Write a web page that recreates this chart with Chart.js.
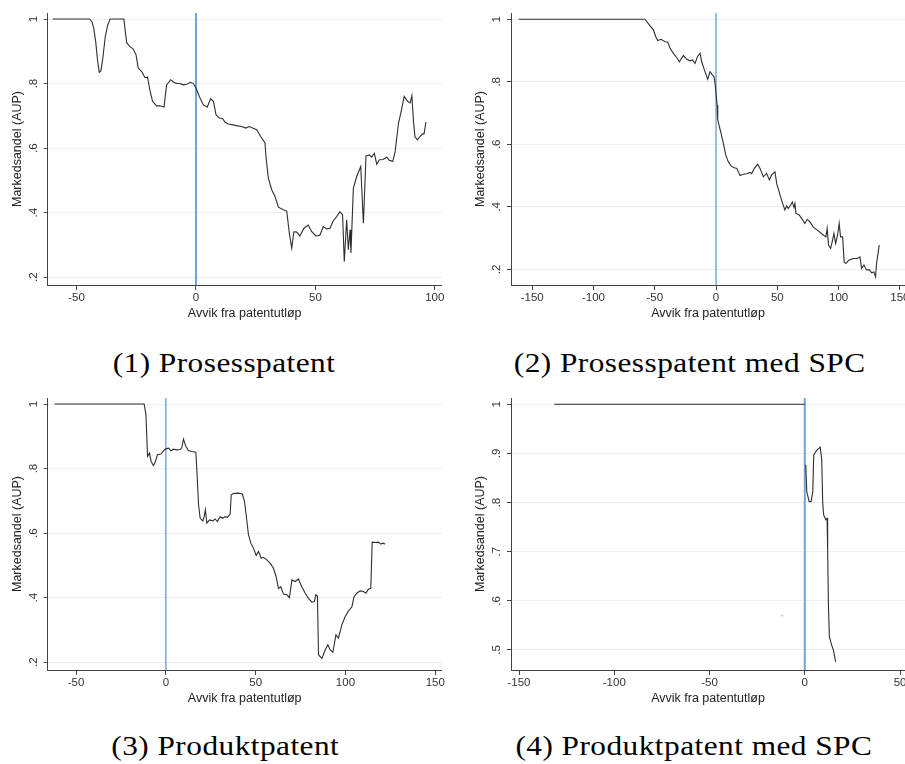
<!DOCTYPE html>
<html>
<head>
<meta charset="utf-8">
<script src="https://cdn.jsdelivr.net/npm/chart.js@4.4.1/dist/chart.umd.min.js"></script>
<style>
  html, body { margin: 0; padding: 0; background: #fff; overflow: hidden; width: 905px; height: 764px; }
  .panel { position: absolute; }
  .cap { position: absolute; width: 400px; text-align: center; font-family: "Liberation Serif", serif; font-size: 27px; line-height: 27px; color: #000; }
  .cap span { display: inline-block; letter-spacing: 0.4px; transform: scaleX(1.16); }
</style>
</head>
<body>
<div class="panel" style="left:0;top:0"><canvas id="c1" width="450" height="330"></canvas></div>
<div class="panel" style="left:455px;top:0"><canvas id="c2" width="470" height="330"></canvas></div>
<div class="panel" style="left:0;top:385px"><canvas id="c3" width="450" height="330"></canvas></div>
<div class="panel" style="left:455px;top:385px"><canvas id="c4" width="470" height="330"></canvas></div>

<div class="cap" style="left:24px;top:350px"><span>(1) Prosesspatent</span></div>
<div class="cap" style="left:490px;top:350px"><span>(2) Prosesspatent med SPC</span></div>
<div class="cap" style="left:25px;top:733px"><span>(3) Produktpatent</span></div>
<div class="cap" style="left:494px;top:733px"><span>(4) Produktpatent med SPC</span></div>

<script>
// (1) Prosesspatent
const p1X = [-60, -44.5, -43.5, -42.8, -42, -41.2, -40.5, -39.8, -39, -38, -37, -36, -30.2, -29.7, -29, -27.7, -26.3, -25.1, -24.2, -22.8, -21.4, -20.3, -19.3, -18.2,
  -16.5, -15.1, -13.4, -12.3, -10.6, -9.5, -8.1, -6.7, -5.3, -3.9, -2.2, -1.1, 0, 1.4, 3.1, 4.7, 6.1, 7.3, 8.4, 9.8,
  11.2, 12.2, 13.5, 15.6, 17.3, 19.1, 20.9, 22.3, 23.7, 25.4, 27.1, 28.9, 29.3, 30.3, 31.7, 33.1, 34.5, 36.6, 38, 39.1,
  40.1, 41, 42.2, 43.5, 45.2, 47, 48.4, 50.2, 51.9, 53.3, 54.7, 56.1, 57.5, 58.9, 60.3, 61.4, 62.1, 63.1, 63.8, 64.5,
  64.9, 65.9, 67.3, 69, 70.1, 71.2, 72.6, 73.6, 74.7, 75.7, 76.8, 78.4, 79.9, 81, 82.4, 83.4, 84.8, 85.8, 87.2, 88.6,
  89.7, 90.4, 91.1, 91.7, 92.7, 93.8, 94.9, 95.5, 96.3];
const p1Y = [1, 1, 0.99, 0.97, 0.93, 0.87, 0.835, 0.84, 0.88, 0.945, 0.98, 1, 1, 0.967, 0.926, 0.915, 0.907, 0.889, 0.848, 0.838, 0.819, 0.82, 0.78, 0.745,
  0.731, 0.731, 0.727, 0.796, 0.812, 0.805, 0.8, 0.8, 0.796, 0.798, 0.804, 0.8, 0.786, 0.76, 0.734, 0.727, 0.753, 0.745, 0.703, 0.693,
  0.691, 0.68, 0.675, 0.672, 0.669, 0.667, 0.662, 0.667, 0.662, 0.657, 0.636, 0.616, 0.574, 0.507, 0.471, 0.45, 0.417, 0.409, 0.405, 0.336,
  0.29, 0.341, 0.34, 0.328, 0.352, 0.362, 0.342, 0.328, 0.33, 0.357, 0.35, 0.352, 0.375, 0.388, 0.403, 0.393, 0.248, 0.378, 0.285, 0.347,
  0.275, 0.476, 0.512, 0.543, 0.367, 0.576, 0.579, 0.572, 0.584, 0.55, 0.564, 0.565, 0.572, 0.562, 0.559, 0.589, 0.677, 0.709, 0.76, 0.745,
  0.74, 0.762, 0.682, 0.636, 0.626, 0.636, 0.644, 0.644, 0.681];

// (2) Prosesspatent med SPC
const p2X = [-161, -58, -53.8, -51.1, -49.2, -47.6, -44.8, -41.6, -39.4, -37.5, -34.8, -32, -29.9, -26.6, -23.9, -21.2, -19.3, -17.1, -15.2, -13,
  -11.7, -9.5, -6.8, -4.9, -3, -1.6, -0.8, 0.9, 1.4, 2.4, 4.1, 6, 7.9, 10, 12.2, 14.4, 16.9, 19.6, 22.3, 25,
  27.7, 29.1, 31.2, 34, 35.9, 38.6, 41.3, 43.5, 45.4, 48.1, 49.5, 52.2, 54.3, 56.2, 57.6, 58.9, 60.9, 62.3, 63.6, 64.4,
  65.2, 67.9, 69.8, 72.5, 74.4, 76.6, 79.3, 83.4, 87.5, 89.7, 90.7, 91.8, 93.5, 94.8, 96.2, 97.6, 99.2, 100.5, 101.6, 103.3,
  104.6, 106, 108.7, 112, 115.2, 117.4, 118.8, 120.7, 122.8, 125, 127, 128.8, 130.2, 131, 133.2];
const p2Y = [1, 1, 0.979, 0.966, 0.944, 0.932, 0.936, 0.928, 0.927, 0.907, 0.891, 0.877, 0.864, 0.884, 0.872, 0.867, 0.87, 0.859, 0.88, 0.891,
  0.864, 0.838, 0.808, 0.832, 0.822, 0.816, 0.795, 0.726, 0.678, 0.662, 0.635, 0.603, 0.566, 0.544, 0.531, 0.526, 0.523, 0.5, 0.504, 0.506,
  0.51, 0.506, 0.523, 0.536, 0.523, 0.496, 0.507, 0.486, 0.502, 0.512, 0.475, 0.438, 0.411, 0.39, 0.403, 0.395, 0.406, 0.416, 0.398, 0.41,
  0.379, 0.374, 0.363, 0.347, 0.36, 0.352, 0.336, 0.323, 0.31, 0.304, 0.331, 0.278, 0.267, 0.288, 0.315, 0.283, 0.31, 0.347, 0.304, 0.304,
  0.222, 0.219, 0.23, 0.235, 0.235, 0.24, 0.203, 0.214, 0.198, 0.199, 0.189, 0.192, 0.176, 0.219, 0.278];

// (3) Produktpatent
const p3X = [-62, -12.1, -11.1, -10.2, -9.1, -8.2, -6.9, -5.8, -4.7, -2.8, -1.3, 0, 1.5, 2.8, 4.2, 6.1, 8, 8.9, 9.8, 11.1,
  12.6, 14.5, 16.7, 17.3, 18.2, 19.1, 20.6, 21.3, 22, 22.8, 24.3, 26.2, 27.4, 28.7, 30.2, 31.7, 33, 34.3, 35.8, 36.4,
  37.6, 40.4, 42.6, 43.8, 44.7, 46, 47.3, 48.8, 50.3, 51.6, 53.1, 54.3, 56.2, 58.1, 59.9, 61.4, 62.7, 64, 65.5, 67.4,
  68.8, 70.2, 72, 73.8, 75.7, 77.6, 79.4, 81.3, 82.7, 83.5, 84.4, 85, 86.9, 88.7, 90.2, 91.5, 93, 94.7, 96.1, 98,
  99.8, 101.7, 103.6, 104.8, 106.3, 108.2, 110, 111.4, 112.8, 114.1, 114.9, 116.5, 118.4, 119.7, 120.8, 122.1];
const p3Y = [1, 1, 0.967, 0.838, 0.848, 0.822, 0.809, 0.822, 0.843, 0.845, 0.855, 0.861, 0.863, 0.855, 0.86, 0.858, 0.859, 0.865, 0.891, 0.869,
  0.856, 0.853, 0.851, 0.791, 0.688, 0.646, 0.638, 0.651, 0.672, 0.631, 0.641, 0.638, 0.644, 0.636, 0.651, 0.646, 0.651, 0.649, 0.659, 0.719,
  0.723, 0.724, 0.721, 0.698, 0.657, 0.595, 0.569, 0.553, 0.531, 0.543, 0.522, 0.525, 0.517, 0.507, 0.491, 0.465, 0.429, 0.434, 0.411, 0.409,
  0.4, 0.455, 0.45, 0.458, 0.434, 0.414, 0.398, 0.386, 0.388, 0.409, 0.405, 0.223, 0.212, 0.238, 0.254, 0.238, 0.231, 0.285, 0.275, 0.316,
  0.341, 0.359, 0.372, 0.403, 0.414, 0.421, 0.419, 0.414, 0.426, 0.429, 0.572, 0.571, 0.572, 0.566, 0.569, 0.566];

// (4) Produktpatent med SPC (null = break in the line)
const p4X = [-131.5, 0, 0.25, 0.5, 1.05, 2.3, 3.3, 4.2, 4.7, 6.3, 8.1, 8.9, 9.4, 9.9, 11, 11.7, 12, 12.4, 12.9, 14.1, 15, 16.2];
const p4Y = [1, 1, null, 0.877, 0.822, 0.802, 0.802, 0.822, 0.897, 0.907, 0.913, 0.887, 0.8, 0.775, 0.765, 0.768, 0.707, 0.592, 0.527, 0.51, 0.5, 0.476];
const p4DotX = [-11.8];
const p4DotY = [0.57];

// axis ticks
const p1XTicks = [-50, 0, 50, 100];
const p2XTicks = [-150, -100, -50, 0, 50, 100, 150];
const p3XTicks = [-50, 0, 50, 100, 150];
const p4XTicks = [-150, -100, -50, 0, 50];
const shareTicks = [0.2, 0.4, 0.6, 0.8, 1];
const p4YTicks = [0.5, 0.6, 0.7, 0.8, 0.9, 1];

const xTitle = 'Avvik fra patentutløp';
const yTitle = 'Markedsandel (AUP)';

function pairs(xs, ys) {
  return xs.map(function (x, i) { return { x: x, y: ys[i] }; });
}

function stataLabel(v) {
  if (v === 1) return '1';
  return v.toFixed(1).replace(/^0/, '');
}

function drawPanel(id, p) {
  const ctx = document.getElementById(id).getContext('2d');
  const datasets = [{
    data: pairs(p.xs, p.ys),
    borderColor: '#2e2e2e',
    borderWidth: 1.1,
    pointRadius: 0,
    tension: 0,
    spanGaps: false
  }, {
    data: [{ x: 0, y: p.yMin }, { x: 0, y: p.yMax }],
    borderColor: '#6fa4da',
    borderWidth: p.vWidth,
    pointRadius: 0
  }];
  if (p.dotX) {
    datasets.push({
      data: pairs(p.dotX, p.dotY),
      showLine: false,
      pointRadius: 0.9,
      pointBorderWidth: 0,
      pointBackgroundColor: '#9bbcd6'
    });
  }

  new Chart(ctx, {
    type: 'line',
    data: { datasets: datasets },
    options: {
      responsive: false,
      animation: false,
      events: [],
      layout: { padding: { top: 13, right: p.padRight, bottom: 0, left: 0 } },
      plugins: { legend: { display: false }, tooltip: { enabled: false } },
      scales: {
        x: {
          type: 'linear',
          min: p.xMin,
          max: p.xMax,
          afterBuildTicks: function (s) { s.ticks = p.xTicks.map(function (v) { return { value: v }; }); },
          afterFit: function (s) { s.height = 45; },
          grid: { drawOnChartArea: false, tickLength: 5, tickColor: '#444', tickWidth: 1 },
          border: { color: '#444', width: 1 },
          ticks: {
            maxRotation: 0,
            padding: 1,
            color: '#333',
            font: { family: 'Liberation Sans', size: 11.5 },
            callback: function (v) { return String(v); }
          },
          title: {
            display: true,
            text: xTitle,
            color: '#222',
            font: { family: 'Liberation Sans', size: 12.5 },
            padding: { top: 0, bottom: 9 }
          }
        },
        y: {
          type: 'linear',
          min: p.yMin,
          max: p.yMax,
          afterBuildTicks: function (s) { s.ticks = p.yTicks.map(function (v) { return { value: v }; }); },
          afterFit: function (s) { s.width = p.yWidth; },
          grid: { color: '#e9f0f2', lineWidth: 1, tickLength: 4, tickColor: '#444', tickWidth: 1 },
          border: { color: '#444', width: 1 },
          ticks: {
            minRotation: 90,
            maxRotation: 90,
            crossAlign: 'center',
            padding: 5,
            color: '#333',
            font: { family: 'Liberation Sans', size: 11.5 },
            callback: stataLabel
          },
          title: {
            display: true,
            text: yTitle,
            color: '#222',
            font: { family: 'Liberation Sans', size: 12.5 },
            padding: { top: p.yTitlePad, bottom: 0 }
          }
        }
      }
    }
  });
}

drawPanel('c1', { xs: p1X, ys: p1Y, xTicks: p1XTicks, yTicks: shareTicks,
  xMin: -62.1, xMax: 102.9, yMin: 0.176, yMax: 1.0186,
  yWidth: 47.7, padRight: 8.3, yTitlePad: 10.5, vWidth: 2 });

drawPanel('c2', { xs: p2X, ys: p2Y, xTicks: p2XTicks, yTicks: shareTicks,
  xMin: -167.3, xMax: 154.2, yMin: 0.15, yMax: 1.02,
  yWidth: 56, padRight: 20, yTitlePad: 17.8, vWidth: 1.4 });

drawPanel('c3', { xs: p3X, ys: p3Y, xTicks: p3XTicks, yTicks: shareTicks,
  xMin: -65.8, xMax: 153.6, yMin: 0.176, yMax: 1.0186,
  yWidth: 47.7, padRight: 8.3, yTitlePad: 10.5, vWidth: 1.4 });

drawPanel('c4', { xs: p4X, ys: p4Y, dotX: p4DotX, dotY: p4DotY, xTicks: p4XTicks, yTicks: p4YTicks,
  xMin: -154.2, xMax: 52.6, yMin: 0.4593, yMax: 1.0128,
  yWidth: 56, padRight: 20, yTitlePad: 17.8, vWidth: 2 });
</script>
</body>
</html>
